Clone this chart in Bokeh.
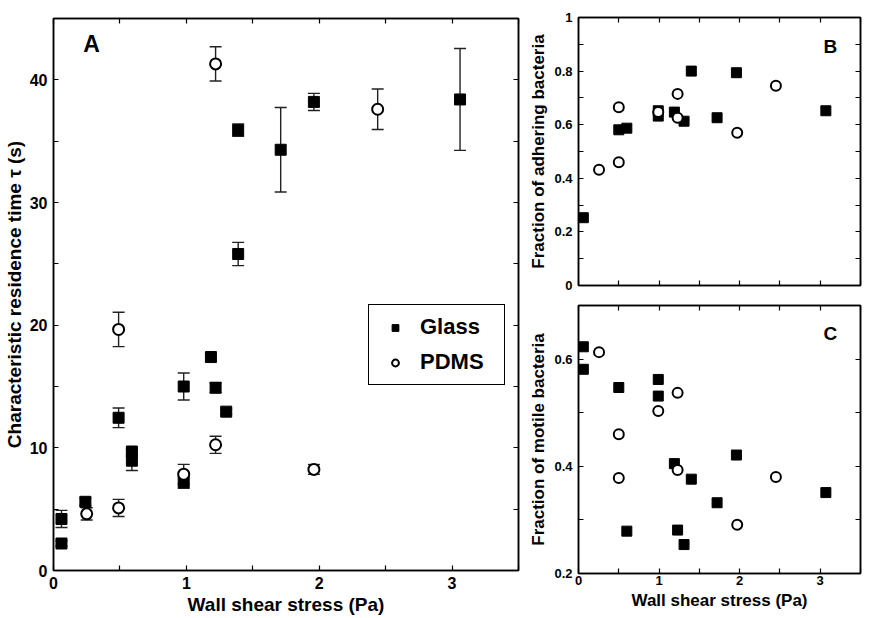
from bokeh.plotting import figure
from bokeh.models import (ColumnDataSource, Whisker, TeeHead, LinearAxis, FixedTicker,
                          Legend, LegendItem, Label, Range1d, CustomLabelingPolicy)
from bokeh.layouts import row, column
from bokeh.embed import file_html
from bokeh.resources import INLINE
import numpy as np

# ---------------- data ----------------
# Panel A: characteristic residence time (s) vs wall shear stress (Pa)
glass_a_x = [0.06, 0.06, 0.24, 0.49, 0.59, 0.59, 0.98, 0.98, 1.185, 1.22, 1.30, 1.39, 1.39, 1.71, 1.96, 3.06]
glass_a_y = [4.2, 2.2, 5.6, 12.45, 9.7, 8.95, 15.0, 7.2, 17.4, 14.9, 12.95, 35.9, 25.8, 34.3, 38.2, 38.4]
glass_a_err = [0.7, 0.2, 0.3, 0.8, 0.2, 0.8, 1.1, 0.5, 0.3, 0.4, 0.2, 0.5, 0.95, 3.45, 0.7, 4.15]

pdms_a_x = [0.25, 0.49, 0.49, 0.98, 1.22, 1.22, 1.96, 2.44]
pdms_a_y = [4.62, 19.65, 5.1, 7.85, 10.25, 41.3, 8.24, 37.6]
pdms_a_err = [0.5, 1.4, 0.7, 0.8, 0.7, 1.4, 0.4, 1.65]

# Panel B: fraction of adhering bacteria
glass_b_x = [0.06, 0.50, 0.60, 0.99, 0.99, 1.19, 1.31, 1.40, 1.72, 1.96, 3.07]
glass_b_y = [0.253, 0.581, 0.587, 0.652, 0.632, 0.647, 0.613, 0.80, 0.626, 0.794, 0.652]
pdms_b_x = [0.255, 0.50, 0.50, 0.99, 1.23, 1.23, 1.97, 2.45]
pdms_b_y = [0.432, 0.665, 0.46, 0.647, 0.715, 0.626, 0.570, 0.745]

# Panel C: fraction of motile bacteria
glass_c_x = [0.06, 0.06, 0.50, 0.60, 0.99, 0.99, 1.19, 1.23, 1.31, 1.40, 1.72, 1.96, 3.07]
glass_c_y = [0.623, 0.581, 0.547, 0.279, 0.562, 0.531, 0.405, 0.281, 0.254, 0.376, 0.332, 0.421, 0.351]
pdms_c_x = [0.255, 0.50, 0.50, 0.99, 1.23, 1.23, 1.97, 2.45]
pdms_c_y = [0.613, 0.46, 0.378, 0.503, 0.537, 0.393, 0.291, 0.380]

# ticks
x_ticks = [0, 1, 2, 3]
x_minor = [0.5, 1.5, 2.5, 3.5]
a_y_ticks = [0, 10, 20, 30, 40]
a_y_minor = [5, 15, 25, 35, 45]
b_y_ticks = [0, 0.2, 0.4, 0.6, 0.8, 1]
b_y_minor = [0.1, 0.3, 0.5, 0.7, 0.9]
c_y_ticks = [0.2, 0.4, 0.6]
c_y_minor = [0.3, 0.5, 0.7]

FONT = "Liberation Sans"


def style_axis(ax, ticks, minor, size, show_labels=True, overrides=None, label_size="18px"):
    ax.ticker = FixedTicker(ticks=ticks, minor_ticks=minor)
    ax.major_tick_in = 5
    ax.major_tick_out = 0
    ax.minor_tick_in = 5
    ax.minor_tick_out = 0
    ax.axis_line_width = 1.5
    ax.axis_line_color = "black"
    ax.major_tick_line_width = 1.2
    ax.minor_tick_line_width = 1.2
    ax.major_tick_line_color = "black"
    ax.minor_tick_line_color = "black"
    ax.major_label_text_font = FONT
    ax.major_label_text_font_style = "bold"
    ax.major_label_text_color = "black"
    if show_labels:
        ax.major_label_text_font_size = size
        ax.major_label_standoff = 6
    else:
        ax.major_label_text_font_size = "1px"
        ax.major_label_standoff = 0
        ax.major_label_policy = CustomLabelingPolicy(code="return []")
    if overrides:
        ax.major_label_overrides = overrides
    ax.axis_label_text_font = FONT
    ax.axis_label_text_font_style = "bold"
    ax.axis_label_text_font_size = label_size
    ax.axis_label_text_color = "black"
    ax.axis_label_standoff = 3


def make_fig(fw, fh, xr, yr, **borders):
    p = figure(frame_width=fw, frame_height=fh, x_range=xr, y_range=yr,
               output_backend="svg", toolbar_location=None, **borders)
    p.grid.visible = False
    p.outline_line_color = "black"
    p.outline_line_width = 1.5
    p.background_fill_color = "white"
    p.border_fill_color = "white"
    return p


def add_frame_axes(p, xt, xm, yt, ym):
    top = LinearAxis()
    right = LinearAxis()
    style_axis(top, xt, xm, "1px", show_labels=False)
    style_axis(right, yt, ym, "1px", show_labels=False)
    p.add_layout(top, "above")
    p.add_layout(right, "right")


def errbars(p, xs, ys, es):
    y = np.array(ys)
    e = np.array(es)
    src = ColumnDataSource(dict(x=xs, upper=y + e, lower=y - e))
    w = Whisker(base="x", upper="upper", lower="lower", source=src, dimension="height",
                line_color="#222222", line_width=1.4,
                upper_head=TeeHead(size=12, line_color="#222222", line_width=1.4),
                lower_head=TeeHead(size=12, line_color="#222222", line_width=1.4))
    p.add_layout(w)


# ---------------- Panel A ----------------
pA = make_fig(465, 552, Range1d(0, 3.5), Range1d(0, 45),
              min_border_left=44, min_border_right=8, min_border_top=18, min_border_bottom=42)
style_axis(pA.xaxis[0], x_ticks, x_minor, "16px", label_size="19px")
style_axis(pA.yaxis[0], a_y_ticks, a_y_minor, "16px", label_size="19px")
pA.xaxis[0].axis_label = "Wall shear stress (Pa)"
pA.xaxis[0].axis_label_standoff = 2
pA.yaxis[0].axis_label = "Characteristic residence time τ (s)"
pA.yaxis[0].axis_label_standoff = 2
add_frame_axes(pA, x_ticks, x_minor, a_y_ticks, a_y_minor)

errbars(pA, glass_a_x, glass_a_y, glass_a_err)
errbars(pA, pdms_a_x, pdms_a_y, pdms_a_err)
rg = pA.scatter(glass_a_x, glass_a_y, marker="square", size=11, fill_color="black", line_color="black")
rp = pA.scatter(pdms_a_x, pdms_a_y, marker="circle", size=11, fill_color="white",
                line_color="black", line_width=2)

legend = Legend(items=[LegendItem(label="Glass", renderers=[rg]),
                       LegendItem(label="PDMS", renderers=[rp])],
                location=(315, 185))
legend.label_text_font = FONT
legend.label_text_font_style = "bold"
legend.label_text_font_size = "22px"
legend.label_text_color = "black"
legend.border_line_color = "black"
legend.border_line_alpha = 1.0
legend.border_line_width = 1.5
legend.padding = 9
legend.spacing = 9
legend.glyph_width = 34
legend.glyph_height = 17
legend.label_height = 17
legend.label_width = 75
legend.label_standoff = 8
legend.margin = 0
legend.background_fill_alpha = 1.0
pA.add_layout(legend)

pA.add_layout(Label(x=0.224, y=41.9, text="A", text_font=FONT, text_font_style="bold",
                    text_font_size="23px", text_color="black"))

# ---------------- Panel B ----------------
pB = make_fig(282, 268, Range1d(0, 3.5), Range1d(0, 1),
              min_border_left=52, min_border_right=2, min_border_top=17, min_border_bottom=10)
style_axis(pB.xaxis[0], x_ticks, x_minor, "1px", show_labels=False)
style_axis(pB.yaxis[0], b_y_ticks, b_y_minor, "13px", overrides={0: "0", 1: "1"}, label_size="17px")
pB.yaxis[0].axis_label = "Fraction of adhering bacteria"
add_frame_axes(pB, x_ticks, x_minor, b_y_ticks, b_y_minor)
pB.scatter(glass_b_x, glass_b_y, marker="square", size=10, fill_color="black", line_color="black")
pB.scatter(pdms_b_x, pdms_b_y, marker="circle", size=10, fill_color="white",
           line_color="black", line_width=2)
pB.add_layout(Label(x=3.04, y=0.852, text="B", text_font=FONT, text_font_style="bold",
                    text_font_size="19px", text_color="black"))

# ---------------- Panel C ----------------
pC = make_fig(282, 268, Range1d(0, 3.5), Range1d(0.2, 0.7),
              min_border_left=52, min_border_right=2, min_border_top=10, min_border_bottom=35)
style_axis(pC.xaxis[0], x_ticks, x_minor, "13px", label_size="17px")
pC.xaxis[0].major_label_standoff = 2
style_axis(pC.yaxis[0], c_y_ticks, c_y_minor, "13px", label_size="17px")
pC.xaxis[0].axis_label = "Wall shear stress (Pa)"
pC.xaxis[0].axis_label_standoff = 3
pC.yaxis[0].axis_label = "Fraction of motile bacteria"
add_frame_axes(pC, x_ticks, x_minor, c_y_ticks, c_y_minor)
pC.scatter(glass_c_x, glass_c_y, marker="square", size=10, fill_color="black", line_color="black")
pC.scatter(pdms_c_x, pdms_c_y, marker="circle", size=10, fill_color="white",
           line_color="black", line_width=2)
pC.add_layout(Label(x=3.04, y=0.629, text="C", text_font=FONT, text_font_style="bold",
                    text_font_size="19px", text_color="black"))

layout = row(pA, column(pB, pC))

open("out.html", "w").write(file_html(layout, INLINE))
